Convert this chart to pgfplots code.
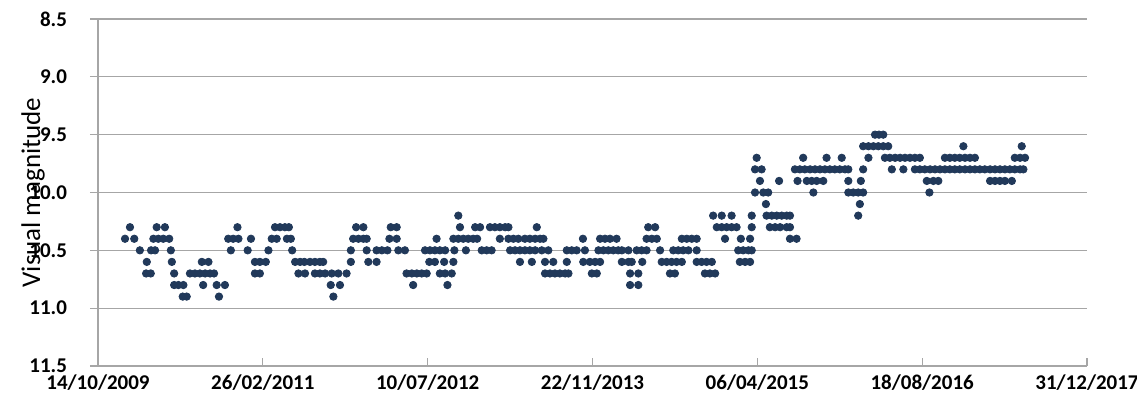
\documentclass[border=0pt]{standalone}
\usepackage{pgfplots}
\pgfplotsset{compat=1.18}
\usepackage{fontspec}
\setmainfont{Carlito}
\definecolor{dotc}{RGB}{33,57,90}
\definecolor{gridc}{RGB}{166,166,166}
\begin{document}
\begin{tikzpicture}
\path[use as bounding box] (-49pt,-19.5pt) rectangle (519.5pt,183pt);
\begin{axis}[
  at={(0,0)}, anchor=south west,
  scale only axis, width=494.5pt, height=173.5pt,
  xmin=40100, xmax=43100, ymin=8.5, ymax=11.5,
  y dir=reverse,
  axis x line*=bottom, axis y line*=left,
  axis line style={draw=gridc, line width=0.6pt},
  ymajorgrids, grid style={draw=gridc, line width=0.6pt},
  xtick={40100,40600,41100,41600,42100,42600,43100},
  xticklabels={14/10/2009,26/02/2011,10/07/2012,22/11/2013,06/04/2015,18/08/2016,31/12/2017},
  ytick={8.5,9,9.5,10,10.5,11,11.5},
  yticklabels={8.5,9.0,9.5,10.0,10.5,11.0,11.5},
  tick style={draw=gridc, line width=0.6pt},
  xtick align=inside, ytick align=outside,
  major tick length=4pt,
  ticklabel style={font=\fontsize{10.5}{12}\selectfont\bfseries},
  yticklabel style={xshift=-8pt},
  xticklabel style={inner sep=1pt, yshift=-3pt, text depth=0pt},
  ylabel={Visual magnitude},
  every axis y label/.style={at={(axis description cs:-0.0657,0.5)}, rotate=90, anchor=center, font=\fontsize{13.5}{16}\selectfont},
  clip=false,
]
\addplot[only marks, mark=*, mark size=1.85pt, color=dotc, mark options={draw=dotc, fill=dotc}] coordinates {
(40357,10.9) (40369,10.9) (40467,10.9) (40814,10.9)
(40331,10.8) (40344,10.8) (40359,10.8) (40419,10.8) (40460,10.8) (40485,10.8) (40806,10.8) (40834,10.8) (41056,10.8) (41160,10.8) (41714,10.8) (41739,10.8)
(40246,10.7) (40260,10.7) (40331,10.7) (40379,10.7) (40394,10.7) (40409,10.7) (40425,10.7) (40440,10.7) (40452,10.7) (40576,10.7) (40591,10.7) (40708,10.7) (40728,10.7) (40758,10.7) (40773,10.7) (40789,10.7) (40809,10.7) (40829,10.7) (40854,10.7) (41036,10.7) (41052,10.7) (41067,10.7) (41082,10.7) (41097,10.7) (41137,10.7) (41153,10.7) (41173,10.7) (41456,10.7) (41471,10.7) (41486,10.7) (41501,10.7) (41517,10.7) (41527,10.7) (41598,10.7) (41613,10.7) (41714,10.7) (41739,10.7) (41835,10.7) (41850,10.7) (41941,10.7) (41956,10.7) (41972,10.7)
(40248,10.6) (40324,10.6) (40415,10.6) (40435,10.6) (40576,10.6) (40591,10.6) (40609,10.6) (40698,10.6) (40713,10.6) (40726,10.6) (40743,10.6) (40758,10.6) (40773,10.6) (40783,10.6) (40867,10.6) (40920,10.6) (40945,10.6) (41105,10.6) (41122,10.6) (41150,10.6) (41178,10.6) (41380,10.6) (41416,10.6) (41456,10.6) (41481,10.6) (41522,10.6) (41572,10.6) (41592,10.6) (41608,10.6) (41623,10.6) (41689,10.6) (41709,10.6) (41719,10.6) (41751,10.6) (41810,10.6) (41825,10.6) (41840,10.6) (41855,10.6) (41871,10.6) (41916,10.6) (41931,10.6) (41946,10.6) (41962,10.6) (42047,10.6) (42063,10.6) (42078,10.6)
(40227,10.5) (40261,10.5) (40273,10.5) (40321,10.5) (40503,10.5) (40554,10.5) (40617,10.5) (40689,10.5) (40867,10.5) (40915,10.5) (40945,10.5) (40961,10.5) (40978,10.5) (41011,10.5) (41031,10.5) (41092,10.5) (41107,10.5) (41122,10.5) (41137,10.5) (41153,10.5) (41181,10.5) (41216,10.5) (41264,10.5) (41279,10.5) (41294,10.5) (41350,10.5) (41365,10.5) (41380,10.5) (41395,10.5) (41410,10.5) (41426,10.5) (41446,10.5) (41466,10.5) (41522,10.5) (41537,10.5) (41552,10.5) (41577,10.5) (41618,10.5) (41633,10.5) (41648,10.5) (41663,10.5) (41678,10.5) (41689,10.5) (41709,10.5) (41734,10.5) (41749,10.5) (41764,10.5) (41805,10.5) (41845,10.5) (41860,10.5) (41875,10.5) (41891,10.5) (41916,10.5) (42042,10.5) (42057,10.5) (42073,10.5) (42083,10.5)
(40182,10.4) (40210,10.4) (40268,10.4) (40283,10.4) (40298,10.4) (40316,10.4) (40495,10.4) (40510,10.4) (40526,10.4) (40564,10.4) (40627,10.4) (40642,10.4) (40673,10.4) (40685,10.4) (40874,10.4) (40890,10.4) (40905,10.4) (40915,10.4) (40984,10.4) (41006,10.4) (41127,10.4) (41178,10.4) (41193,10.4) (41208,10.4) (41223,10.4) (41238,10.4) (41250,10.4) (41319,10.4) (41345,10.4) (41360,10.4) (41375,10.4) (41395,10.4) (41410,10.4) (41426,10.4) (41441,10.4) (41451,10.4) (41571,10.4) (41623,10.4) (41638,10.4) (41653,10.4) (41673,10.4) (41764,10.4) (41780,10.4) (41795,10.4) (41871,10.4) (41886,10.4) (41901,10.4) (41916,10.4) (42002,10.4) (42050,10.4) (42078,10.4) (42199,10.4) (42219,10.4)
(40197,10.3) (40278,10.3) (40303,10.3) (40523,10.3) (40637,10.3) (40652,10.3) (40667,10.3) (40679,10.3) (40883,10.3) (40905,10.3) (40988,10.3) (41006,10.3) (41198,10.3) (41244,10.3) (41259,10.3) (41289,10.3) (41304,10.3) (41319,10.3) (41335,10.3) (41345,10.3) (41431,10.3) (41769,10.3) (41790,10.3) (41977,10.3) (41992,10.3) (42007,10.3) (42022,10.3) (42037,10.3) (42083,10.3) (42138,10.3) (42154,10.3) (42169,10.3) (42189,10.3) (42199,10.3)
(41193,10.2) (41966,10.2) (41992,10.2) (42022,10.2) (42083,10.2) (42128,10.2) (42144,10.2) (42159,10.2) (42174,10.2) (42189,10.2) (42199,10.2) (42406,10.2)
(42126,10.1) (42411,10.1)
(42093,10.0) (42118,10.0) (42133,10.0) (42270,10.0) (42376,10.0) (42391,10.0) (42406,10.0) (42421,10.0) (42622,10.0)
(42108,9.9) (42166,9.9) (42222,9.9) (42250,9.9) (42265,9.9) (42280,9.9) (42300,9.9) (42376,9.9) (42414,9.9) (42614,9.9) (42634,9.9) (42649,9.9) (42806,9.9) (42821,9.9) (42836,9.9) (42851,9.9) (42872,9.9)
(42093,9.8) (42113,9.8) (42214,9.8) (42229,9.8) (42244,9.8) (42260,9.8) (42275,9.8) (42290,9.8) (42305,9.8) (42320,9.8) (42335,9.8) (42350,9.8) (42366,9.8) (42376,9.8) (42421,9.8) (42508,9.8) (42543,9.8) (42578,9.8) (42593,9.8) (42608,9.8) (42624,9.8) (42639,9.8) (42654,9.8) (42669,9.8) (42684,9.8) (42699,9.8) (42714,9.8) (42730,9.8) (42745,9.8) (42760,9.8) (42775,9.8) (42790,9.8) (42806,9.8) (42821,9.8) (42836,9.8) (42851,9.8) (42866,9.8) (42881,9.8) (42897,9.8) (42907,9.8)
(42098,9.7) (42239,9.7) (42310,9.7) (42356,9.7) (42437,9.7) (42487,9.7) (42502,9.7) (42518,9.7) (42533,9.7) (42548,9.7) (42563,9.7) (42578,9.7) (42593,9.7) (42669,9.7) (42684,9.7) (42699,9.7) (42714,9.7) (42730,9.7) (42745,9.7) (42760,9.7) (42881,9.7) (42897,9.7) (42912,9.7)
(42421,9.6) (42437,9.6) (42452,9.6) (42467,9.6) (42482,9.6) (42497,9.6) (42725,9.6) (42902,9.6)
(42457,9.5) (42469,9.5) (42482,9.5)
};
\end{axis}
\end{tikzpicture}
\end{document}
